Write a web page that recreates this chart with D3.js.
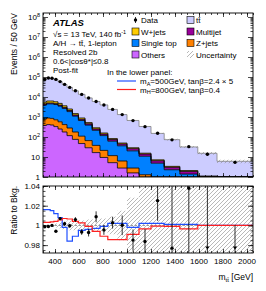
<!DOCTYPE html>
<html>
<head>
<meta charset="utf-8">
<script src="https://cdn.jsdelivr.net/npm/d3@7"></script>
<style>
body { margin: 0; background: #fff; }
text { font-family: "Liberation Sans", Arial, sans-serif; fill: #000; }
</style>
</head>
<body>
<svg id="chart"></svg>
<script>
// bin edges in GeV (variable binning)
const binEdges = [300, 330, 360, 390, 425, 460, 500, 545, 595, 650, 710, 775, 840, 920, 1000, 1100, 1200, 1310, 1440, 1590, 1750, 2050];

// events / 50 GeV
const dataCounts = [75900, 89100, 87100, 75900, 58900, 42700, 30200, 20400, 13500, 8900, 6000, 4000, 2400, 1320, 660, 330, 155, 72, 33, 13.8, 5.4];
const dataRelErr = [0.001, 0.001, 0.001, 0.001, 0.0015, 0.002, 0.002, 0.0025, 0.003, 0.004, 0.0055, 0.005, 0.006, 0.01, 0.011, 0.013, 0.02, 0.07, 0.08, 0.16, 0.13];
const others = [380, 417, 398, 331, 251, 178, 117, 76, 47, 29, 16.6, 9.5, 5.2, 2.8, 1.6, 0.8, 0.4, 0.2, 0.1, 0.05, 0.03];
const zjets = [414, 474, 453, 393, 324, 239, 165, 102, 63, 37, 21.4, 11.9, 6.5, 3.5, 1.2, 0.5, 0.3, 0.15, 0.08, 0.04, 0.02];
const singleTop = [3170, 3650, 3690, 3480, 2930, 2260, 1580, 932, 557, 328, 178, 96, 50, 30, 17.5, 9.6, 4.2, 1.95, 1.22, 0.64, 0.47];
const multijet = [440, 500, 500, 460, 430, 330, 250, 150, 98, 63, 37, 22, 12.5, 8.5, 5.8, 3.1, 1.6, 0.75, 0.5, 0.28, 0.2];
const wjets = [1100, 1260, 1260, 1090, 860, 620, 400, 220, 125, 68, 35, 19, 9.1, 5, 2.9, 1.5, 0.7, 0.35, 0.2, 0.11, 0.08];
const ttbar = [70500, 82900, 80800, 70600, 53700, 39000, 27700, 18800, 12700, 8440, 5660, 3860, 2310, 1270, 641, 320, 144, 70.3, 29.7, 14.2, 5.3];
const bkgRelUnc = [0.001, 0.001, 0.0015, 0.002, 0.003, 0.004, 0.005, 0.005, 0.005, 0.006, 0.006, 0.007, 0.009, 0.015, 0.028, 0.045, 0.07, 0.1, 0.12, 0.15, 0.2];

// signal+bkg / bkg in the lower panel
const ratioA500 = [1.016, 1.016, 1.015, 1.012, 1.008, 0.998, 0.984, 0.989, 0.995, 0.996, 0.997, 0.999, 1.002, 1.002, 0.998, 1.002, 1.002, 1.001, 1.001, 1.0, 1.0];
const ratioH800 = [1.003, 1.003, 1.0035, 1.004, 1.0055, 1.007, 1.0065, 1.004, 1.0025, 0.999, 0.994, 0.989, 0.9855, 0.9855, 0.991, 0.9965, 0.9992, 0.999, 0.9965, 1.0, 1.0];

const xTicks = [400, 600, 800, 1000, 1200, 1400, 1600, 1800, 2000];
const yTicksUpper = [0, 1, 2, 3, 4, 5, 6, 7, 8]; // powers of ten
const yTicksLower = [0.98, 1, 1.02, 1.04];

const width = 266, height = 291;
const left = 43, right = 253;
const upTop = 13, upBot = 177;
const loTop = 186, loBot = 253;

const svg = d3.select("#chart").attr("width", width).attr("height", height);

const defs = svg.append("defs");
const hatch = defs.append("pattern")
    .attr("id", "hatch")
    .attr("patternUnits", "userSpaceOnUse")
    .attr("width", 4).attr("height", 4);
hatch.append("path")
    .attr("d", "M-1,1 L1,-1 M0,4 L4,0 M3,5 L5,3")
    .attr("stroke", "#8a8a8a").attr("stroke-width", 0.6);

defs.append("clipPath").attr("id", "clipUp")
    .append("rect").attr("x", left).attr("y", upTop).attr("width", right - left).attr("height", upBot - upTop);
defs.append("clipPath").attr("id", "clipLo")
    .append("rect").attr("x", left).attr("y", loTop).attr("width", right - left).attr("height", loBot - loTop);

const x = d3.scaleLinear().domain([300, 2050]).range([left, right]);
const yUp = d3.scaleLog().domain([1, Math.pow(10, 8.2)]).range([upBot, upTop]).clamp(true);
const yLo = d3.scaleLinear().domain([0.972, 1.04]).range([loBot, loTop]);

const nBins = binEdges.length - 1;
const centers = d3.range(nBins).map(i => (binEdges[i] + binEdges[i + 1]) / 2);

// stack from bottom to top
const layers = [
    { name: "Others", values: others, color: "#cc66ff", line: "#000" },
    { name: "Z+jets", values: zjets, color: "#ff8000", line: "#000" },
    { name: "Single top", values: singleTop, color: "#0080ff", line: "#000" },
    { name: "Multijet", values: multijet, color: "#990099", line: "#000" },
    { name: "W+jets", values: wjets, color: "#ffcc00", line: "#000" },
    { name: "ttbar", values: ttbar, color: "#ccccff", line: "#808080" }
];
let cum = d3.range(nBins).map(() => 0);
layers.forEach(l => {
    l.lo = cum.slice();
    l.hi = cum.map((c, i) => c + l.values[i]);
    cum = l.hi;
});
const total = cum;

function stepPoints(lo, hi) {
    let pts = d3.range(nBins).map(i => ({ x: binEdges[i], lo: lo[i], hi: hi[i] }));
    pts.push({ x: binEdges[nBins], lo: lo[nBins - 1], hi: hi[nBins - 1] });
    return pts;
}

const up = svg.append("g").attr("clip-path", "url(#clipUp)");

const areaUp = d3.area()
    .x(d => x(d.x)).y0(d => yUp(Math.max(d.lo, 0.5))).y1(d => yUp(d.hi))
    .curve(d3.curveStepAfter);
const lineUp = d3.line()
    .x(d => x(d.x)).y(d => yUp(d.hi))
    .curve(d3.curveStepAfter);

layers.slice().reverse().forEach(l => {
    up.append("path").datum(stepPoints(l.lo, l.hi))
        .attr("d", areaUp).attr("fill", l.color);
});
layers.forEach(l => {
    up.append("path").datum(stepPoints(l.lo, l.hi))
        .attr("d", lineUp).attr("fill", "none")
        .attr("stroke", l.line).attr("stroke-width", 0.8);
});

// uncertainty on total
up.append("path")
    .datum(stepPoints(total.map((t, i) => t * (1 - bkgRelUnc[i])), total.map((t, i) => t * (1 + bkgRelUnc[i]))))
    .attr("d", areaUp).attr("fill", "url(#hatch)");

// data
up.selectAll(".derr").data(d3.range(nBins)).enter().append("line")
    .attr("x1", i => x(centers[i])).attr("x2", i => x(centers[i]))
    .attr("y1", i => yUp(dataCounts[i] * (1 - dataRelErr[i])))
    .attr("y2", i => yUp(dataCounts[i] * (1 + dataRelErr[i])))
    .attr("stroke", "#000").attr("stroke-width", 0.8);
up.selectAll(".dpt").data(d3.range(nBins)).enter().append("circle")
    .attr("cx", i => x(centers[i])).attr("cy", i => yUp(dataCounts[i]))
    .attr("r", 1.7).attr("fill", "#000");

// lower panel
const lo = svg.append("g").attr("clip-path", "url(#clipLo)");
const areaLo = d3.area()
    .x(d => x(d.x)).y0(d => yLo(d.lo)).y1(d => yLo(d.hi))
    .curve(d3.curveStepAfter);
const lineLo = d3.line()
    .x(d => x(d.x)).y(d => yLo(d.hi))
    .curve(d3.curveStepAfter);

lo.append("path")
    .datum(stepPoints(bkgRelUnc.map(u => 1 - u), bkgRelUnc.map(u => 1 + u)))
    .attr("d", areaLo).attr("fill", "url(#hatch)");

lo.append("line")
    .attr("x1", left).attr("x2", right).attr("y1", yLo(1)).attr("y2", yLo(1))
    .attr("stroke", "#666").attr("stroke-width", 0.7).attr("stroke-dasharray", "2,2");

lo.append("path").datum(stepPoints(ratioA500, ratioA500))
    .attr("d", lineLo).attr("fill", "none").attr("stroke", "#2050ff").attr("stroke-width", 1.2);
lo.append("path").datum(stepPoints(ratioH800, ratioH800))
    .attr("d", lineLo).attr("fill", "none").attr("stroke", "#ff2020").attr("stroke-width", 1.2);

const ratio = dataCounts.map((d, i) => d / total[i]);
const rMin = yLo.domain()[0];
lo.selectAll(".rerr").data(d3.range(nBins)).enter().append("line")
    .attr("x1", i => x(centers[i])).attr("x2", i => x(centers[i]))
    .attr("y1", i => yLo(ratio[i] * (1 - dataRelErr[i])))
    .attr("y2", i => yLo(ratio[i] * (1 + dataRelErr[i])))
    .attr("stroke", "#000").attr("stroke-width", 0.8);
lo.selectAll(".rpt").data(d3.range(nBins).filter(i => ratio[i] >= rMin)).enter().append("circle")
    .attr("cx", i => x(centers[i])).attr("cy", i => yLo(ratio[i]))
    .attr("r", 1.7).attr("fill", "#000");
lo.selectAll(".arrow").data(d3.range(nBins).filter(i => ratio[i] < rMin)).enter().append("path")
    .attr("d", i => {
        const cx = x(centers[i]), cy = loBot - 4;
        return `M${cx - 2.2},${cy - 2.5} L${cx + 2.2},${cy - 2.5} L${cx},${cy + 0.5} Z`;
    })
    .attr("fill", "#000");

// axes (ticks point inward, ROOT style)
function xTicksFor(yPos, dir) {
    const g = svg.append("g");
    g.append("g").attr("transform", `translate(0,${yPos})`)
        .call(d3.axisBottom(x).tickValues(xTicks).tickSize(-4 * dir).tickFormat(""));
    g.append("g").attr("transform", `translate(0,${yPos})`)
        .call(d3.axisBottom(x).tickValues(d3.range(300, 2051, 50)).tickSize(-2 * dir).tickFormat(""));
    g.selectAll(".domain").remove();
    g.selectAll("line").attr("stroke", "#000").attr("stroke-width", 0.7);
}
xTicksFor(upBot, 1);
xTicksFor(upTop, -1);
xTicksFor(loBot, 1);
xTicksFor(loTop, -1);

const logMinor = [];
for (let p = 0; p < 9; p++) for (let k = 2; k <= 9; k++) {
    const v = k * Math.pow(10, p);
    if (v < Math.pow(10, 8.2)) logMinor.push(v);
}
[[left, 1], [right, -1]].forEach(([xp, dir]) => {
    const g = svg.append("g").attr("transform", `translate(${xp},0)`);
    g.append("g").call(d3.axisLeft(yUp).tickValues(yTicksUpper.map(p => Math.pow(10, p))).tickSize(-5 * dir).tickFormat(""));
    g.append("g").call(d3.axisLeft(yUp).tickValues(logMinor).tickSize(-2.5 * dir).tickFormat(""));
    g.append("g").call(d3.axisLeft(yLo).tickValues(yTicksLower).tickSize(-5 * dir).tickFormat(""));
    g.append("g").call(d3.axisLeft(yLo).tickValues(d3.range(0.975, 1.0401, 0.005)).tickSize(-2.5 * dir).tickFormat(""));
    g.selectAll(".domain").remove();
    g.selectAll("line").attr("stroke", "#000").attr("stroke-width", 0.7);
});

// frames
svg.append("rect").attr("x", left).attr("y", upTop).attr("width", right - left).attr("height", upBot - upTop)
    .attr("fill", "none").attr("stroke", "#000").attr("stroke-width", 0.9);
svg.append("rect").attr("x", left).attr("y", loTop).attr("width", right - left).attr("height", loBot - loTop)
    .attr("fill", "none").attr("stroke", "#000").attr("stroke-width", 0.9);

// tick labels
const fs = 8;
yTicksUpper.forEach(p => {
    const t = svg.append("text").attr("x", left - 3).attr("y", yUp(Math.pow(10, p)) + 3)
        .attr("text-anchor", "end").attr("font-size", fs);
    if (p === 0) t.text("1");
    else if (p === 1) t.text("10");
    else {
        t.append("tspan").text("10");
        t.append("tspan").attr("dy", -3.5).attr("font-size", 5.5).text(p);
    }
});
yTicksLower.forEach(v => {
    svg.append("text").attr("x", left - 3).attr("y", yLo(v) + 3)
        .attr("text-anchor", "end").attr("font-size", fs)
        .text(v === 1 ? "1" : d3.format(".2f")(v));
});
xTicks.forEach(v => {
    svg.append("text").attr("x", x(v)).attr("y", loBot + 11)
        .attr("text-anchor", "middle").attr("font-size", fs).text(v);
});

// axis titles
svg.append("text").attr("transform", `translate(17,${upTop}) rotate(-90)`)
    .attr("text-anchor", "end").attr("font-size", 8.5).text("Events / 50 GeV");
svg.append("text").attr("transform", `translate(17,${loTop}) rotate(-90)`)
    .attr("text-anchor", "end").attr("font-size", 8.5).text("Ratio to Bkg.");
const xt = svg.append("text").attr("x", right).attr("y", 280).attr("text-anchor", "end").attr("font-size", 8.5);
xt.append("tspan").text("m");
xt.append("tspan").attr("dy", 2).attr("font-size", 6).text("tt\u0304");
xt.append("tspan").attr("dy", -2).text(" [GeV]");

// ATLAS label block
svg.append("text").attr("x", 53).attr("y", 26).attr("font-size", 9.5)
    .attr("font-weight", "bold").attr("font-style", "italic").text("ATLAS");
const info = ["\u221As = 13 TeV, 140 fb", "A/H \u2192 tt\u0304, 1-lepton", "Resolved 2b", "0.6<|cos\u03B8*|\u22640.8", "Post-fit"];
info.forEach((s, i) => {
    const t = svg.append("text").attr("x", 53).attr("y", 36.5 + i * 9.2).attr("font-size", 8).text(s);
    if (i === 0) t.append("tspan").attr("dy", -3).attr("font-size", 5.5).text("-1");
});

// legend
const legRows = [20, 31.5, 43, 54.5];
const col1 = 132, col2 = 187;
function legBox(xp, yc, fill, label) {
    svg.append("rect").attr("x", xp).attr("y", yc - 3.5).attr("width", 7).attr("height", 7)
        .attr("fill", fill).attr("stroke", fill === "url(#hatch)" ? "none" : "#000").attr("stroke-width", 0.6);
    svg.append("text").attr("x", xp + 9).attr("y", yc + 3).attr("font-size", 8).text(label);
}
svg.append("line").attr("x1", col1 + 3.5).attr("x2", col1 + 3.5).attr("y1", legRows[0] - 3).attr("y2", legRows[0] + 3)
    .attr("stroke", "#000").attr("stroke-width", 0.8);
svg.append("circle").attr("cx", col1 + 3.5).attr("cy", legRows[0]).attr("r", 1.7).attr("fill", "#000");
svg.append("text").attr("x", col1 + 9).attr("y", legRows[0] + 3).attr("font-size", 8).text("Data");
legBox(col1, legRows[1], "#ffcc00", "W+jets");
legBox(col1, legRows[2], "#0080ff", "Single top");
legBox(col1, legRows[3], "#cc66ff", "Others");
legBox(col2, legRows[0], "#ccccff", "tt\u0304");
legBox(col2, legRows[1], "#990099", "Multijet");
legBox(col2, legRows[2], "#ff8000", "Z+jets");
legBox(col2, legRows[3], "url(#hatch)", "Uncertainty");

svg.append("text").attr("x", 107).attr("y", 74.5).attr("font-size", 8).text("In the lower panel:");
function sigLine(yc, color, sub, rest) {
    svg.append("line").attr("x1", 117).attr("x2", 136).attr("y1", yc).attr("y2", yc)
        .attr("stroke", color).attr("stroke-width", 1.2);
    const t = svg.append("text").attr("x", 140).attr("y", yc + 3).attr("font-size", 8);
    t.append("tspan").text("m");
    t.append("tspan").attr("dy", 1.8).attr("font-size", 5.5).text(sub);
    t.append("tspan").attr("dy", -1.8).text(rest);
}
sigLine(81, "#2050ff", "A", "=500GeV, tan\u03B2=2.4 \u00D7 5");
sigLine(89.5, "#ff2020", "H", "=800GeV, tan\u03B2=0.4");
</script>
</body>
</html>
